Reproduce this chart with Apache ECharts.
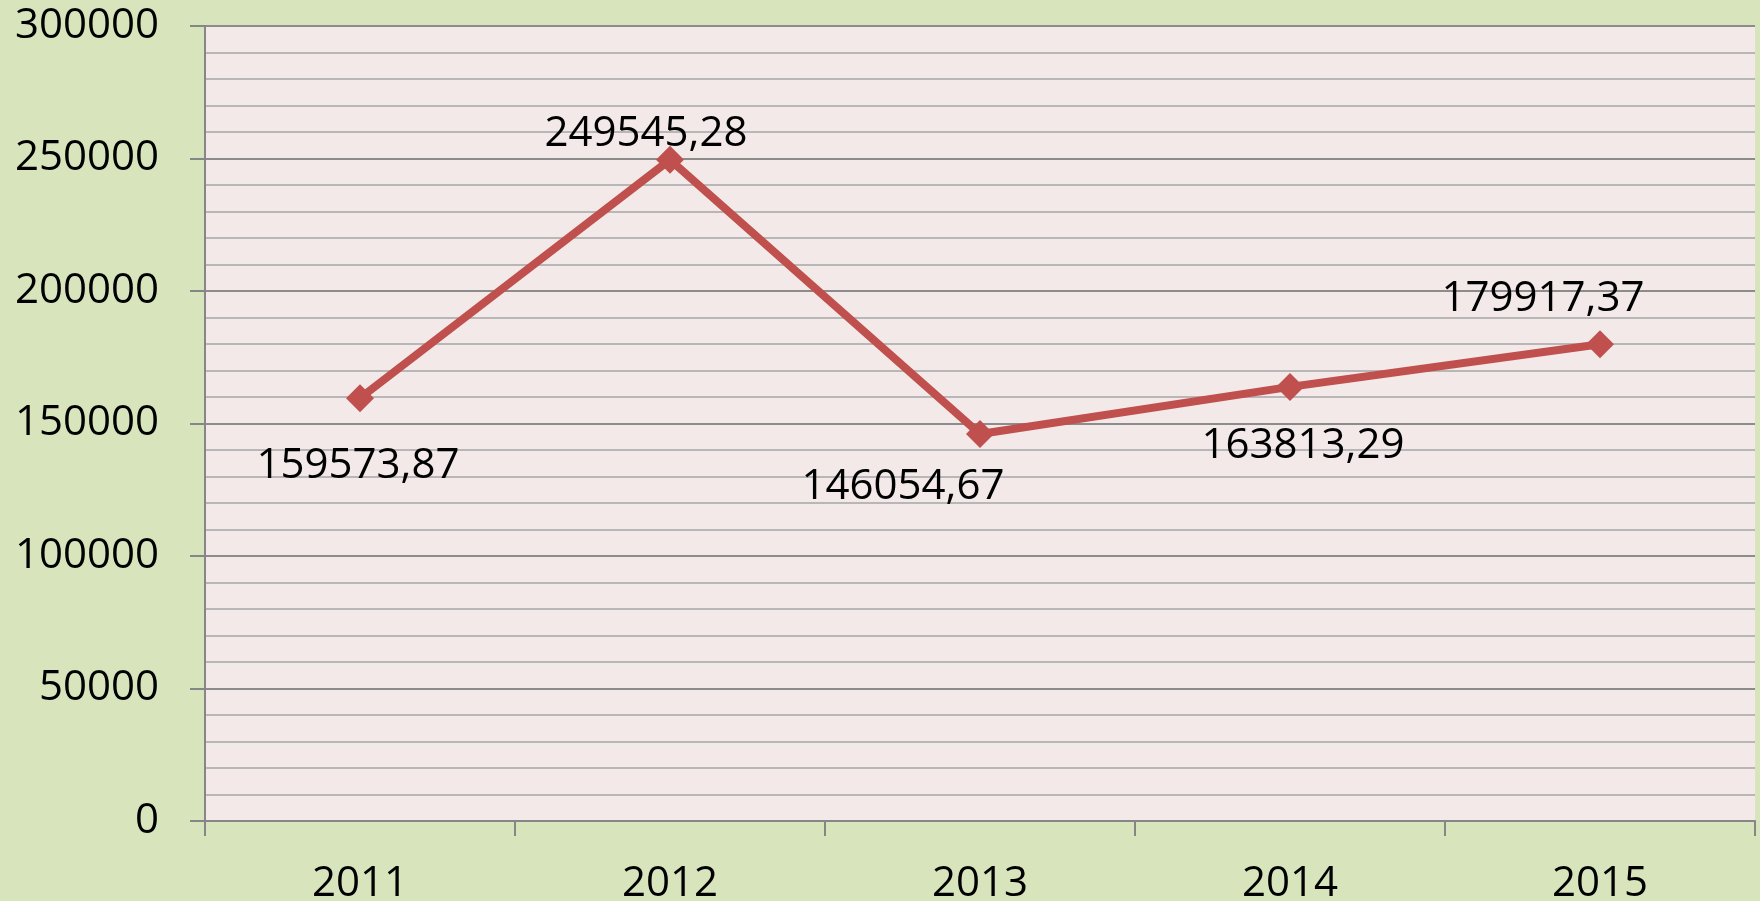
<!DOCTYPE html>
<html>
<head>
<meta charset="utf-8">
<script src="https://cdn.jsdelivr.net/npm/echarts@6/dist/echarts.min.js"></script>
<style>
    html, body {
        margin: 0;
        padding: 0;
        background: #d8e4bc;
    }
    #chart {
        width: 1760px;
        height: 901px;
    }
</style>
</head>
<body>
<div id="chart"></div>
<script>
const years = ["2011", "2012", "2013", "2014", "2015"];
const values = [159573.87, 249545.28, 146054.67, 163813.29, 179917.37];
const labelOffsets = [[-2, 68], [-24, -26], [-77, 53], [13, 59], [-57, -45]];

const FONT = "Open Sans";

function formatValue(value) {
    return value.toFixed(2).replace(".", ",");
}

const chart = echarts.init(document.getElementById("chart"));

const seriesData = values.map((value, i) => ({
    value: value,
    label: {
        offset: labelOffsets[i]
    }
}));

chart.setOption({
    backgroundColor: "#d8e4bc",
    animation: false,
    grid: {
        left: 205,
        right: 5,
        top: 26,
        bottom: 80,
        outerBoundsMode: "none",
        containLabel: false,
        show: true,
        backgroundColor: "#f2e9e8",
        borderWidth: 0
    },
    xAxis: {
        type: "category",
        data: years,
        boundaryGap: true,
        axisLine: {
            lineStyle: {
                color: "#868686",
                width: 2
            }
        },
        axisTick: {
            show: true,
            length: 15,
            lineStyle: {
                color: "#868686",
                width: 2
            }
        },
        axisLabel: {
            color: "#000000",
            fontFamily: FONT,
            fontSize: 42,
            margin: 42
        }
    },
    yAxis: {
        type: "value",
        min: 0,
        max: 300000,
        interval: 50000,
        axisLine: {
            show: true,
            lineStyle: {
                color: "#868686",
                width: 2
            }
        },
        axisTick: {
            show: true,
            length: 15,
            lineStyle: {
                color: "#868686",
                width: 2
            }
        },
        axisLabel: {
            color: "#000000",
            fontFamily: FONT,
            fontSize: 42,
            margin: 46,
            formatter: value => String(value)
        },
        splitLine: {
            show: true,
            lineStyle: {
                color: "#8c8c8c",
                width: 2
            }
        },
        minorTick: {
            show: false,
            splitNumber: 5
        },
        minorSplitLine: {
            show: true,
            lineStyle: {
                color: "#b8b6b6",
                width: 2
            }
        }
    },
    series: [
        {
            type: "line",
            data: seriesData,
            symbol: "diamond",
            symbolSize: 28,
            lineStyle: {
                color: "#c0504d",
                width: 8
            },
            itemStyle: {
                color: "#c0504d"
            },
            label: {
                show: true,
                position: "inside",
                color: "#000000",
                fontFamily: FONT,
                fontSize: 42,
                formatter: params => formatValue(params.value)
            }
        }
    ]
});
</script>
</body>
</html>
